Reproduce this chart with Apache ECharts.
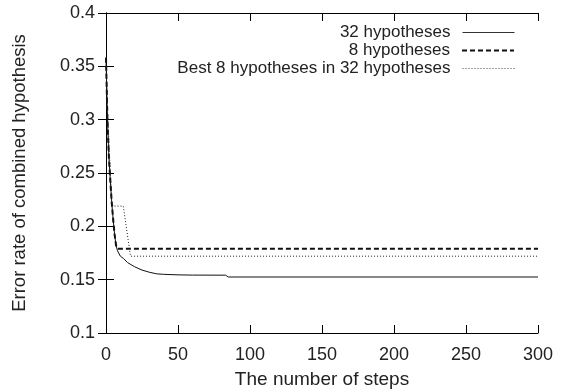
<!DOCTYPE html>
<html>
<head>
<meta charset="utf-8">
<script src="https://cdn.jsdelivr.net/npm/echarts@6/dist/echarts.min.js"></script>
<style>html,body{margin:0;padding:0;background:#fff;}#c{width:564px;height:389px;}</style>
</head>
<body>
<div id="c"></div>
<script>
const seriesNames = ['32 hypotheses', '8 hypotheses', 'Best 8 hypotheses in 32 hypotheses'];
const steps32 = [0, 1, 2, 3, 4, 5, 6, 7, 8, 10, 12, 15, 20, 25, 30, 35, 40, 50, 60, 83, 85, 300];
const err32 = [0.358, 0.300, 0.265, 0.243, 0.222, 0.206, 0.192, 0.182, 0.177, 0.172, 0.170, 0.166, 0.162, 0.159, 0.157, 0.1555, 0.155, 0.1545, 0.1543, 0.1542, 0.1525, 0.1525];
const steps8 = [0, 1, 2, 3, 4, 5, 6, 7, 8, 300];
const err8 = [0.358, 0.300, 0.265, 0.243, 0.222, 0.206, 0.192, 0.182, 0.179, 0.179];
const stepsBest = [0, 1, 2, 3, 4, 5, 12, 17, 300];
const errBest = [0.358, 0.310, 0.280, 0.250, 0.222, 0.219, 0.219, 0.172, 0.172];
const xTicks = [0, 50, 100, 150, 200, 250, 300];
const yTicks = [0.1, 0.15, 0.2, 0.25, 0.3, 0.35, 0.4];

const zip = (xs, ys) => xs.map((x, i) => [x, ys[i]]);
const font = 'Liberation Sans, Arial, sans-serif';
const txt = '#222';

const chart = echarts.init(document.getElementById('c'), null, {renderer: 'canvas'});
const axisLine = {show: true, lineStyle: {color: '#000', width: 1}};
const tick = {show: true, inside: true, length: 8, lineStyle: {color: '#000', width: 1}};

function legend(name, top, ls) {
  return {
    data: [name], right: 49, top: top, align: 'right', orient: 'vertical',
    itemWidth: 52, itemHeight: 14, padding: 0,
    itemStyle: {opacity: 0},
    lineStyle: ls,
    textStyle: {fontFamily: font, fontSize: 17, color: txt, padding: [0, 7, 0, 0]},
    selectedMode: false
  };
}

chart.setOption({
  animation: false,
  backgroundColor: '#fff',
  grid: {left: 106, right: 26, top: 13, bottom: 56, containLabel: false, outerBoundsMode: 'none'},
  legend: [
    legend(seriesNames[0], 24, {width: 1, color: '#333'}),
    legend(seriesNames[1], 42, {width: 2}),
    legend(seriesNames[2], 60, {width: 1, color: '#444'})
  ],
  xAxis: [{
    type: 'value', min: xTicks[0], max: xTicks[xTicks.length - 1], interval: 50,
    axisLine: axisLine, axisTick: tick, splitLine: {show: false},
    axisLabel: {fontFamily: font, fontSize: 18, color: txt, margin: 13},
    name: 'The number of steps', nameLocation: 'middle', nameGap: 37,
    nameTextStyle: {fontFamily: font, fontSize: 19, color: txt}
  }, {
    type: 'value', position: 'top', min: xTicks[0], max: xTicks[xTicks.length - 1], interval: 50,
    axisLine: axisLine, axisTick: tick, splitLine: {show: false}, axisLabel: {show: false}
  }],
  yAxis: [{
    type: 'value', min: yTicks[0], max: yTicks[yTicks.length - 1], interval: 0.05,
    axisLine: axisLine, axisTick: tick, splitLine: {show: false},
    axisLabel: {fontFamily: font, fontSize: 18, color: txt, margin: 11},
    name: 'Error rate of combined hypothesis', nameLocation: 'middle', nameGap: 77,
    nameTextStyle: {fontFamily: font, fontSize: 18.5, color: txt}
  }, {
    type: 'value', position: 'right', min: yTicks[0], max: yTicks[yTicks.length - 1], interval: 0.05,
    axisLine: axisLine, axisTick: tick, splitLine: {show: false}, axisLabel: {show: false}
  }],
  series: [{
    name: seriesNames[0], type: 'line', data: zip(steps32, err32), symbol: 'none',
    lineStyle: {color: '#111', width: 1, type: 'solid'}, itemStyle: {color: '#111'}
  }, {
    name: seriesNames[1], type: 'line', data: zip(steps8, err8), symbol: 'none',
    lineStyle: {color: '#111', width: 2, type: [5, 3]}, itemStyle: {color: '#111'}
  }, {
    name: seriesNames[2], type: 'line', data: zip(stepsBest, errBest), symbol: 'none',
    lineStyle: {color: '#222', width: 1, type: [1, 2]}, itemStyle: {color: '#222'}
  }]
});
</script>
</body>
</html>
